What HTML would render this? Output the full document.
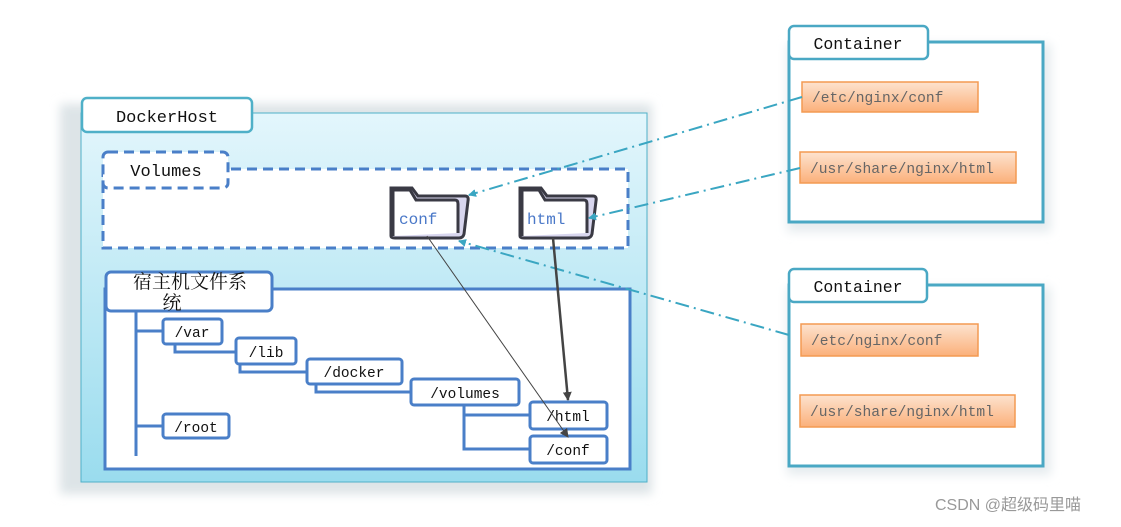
<!DOCTYPE html>
<html><head><meta charset="utf-8"><style>
body{margin:0;background:#fff;width:1121px;height:522px;overflow:hidden}
svg text{font-family:"Liberation Mono","Noto Serif CJK SC",monospace}
</style></head><body>
<svg width="1121" height="522" viewBox="0 0 1121 522" xmlns="http://www.w3.org/2000/svg">
<defs>
<linearGradient id="hg" x1="0" y1="0" x2="0" y2="1"><stop offset="0" stop-color="#e3f6fc"/><stop offset="1" stop-color="#9adcee"/></linearGradient>
<linearGradient id="og" x1="0" y1="0" x2="0" y2="1"><stop offset="0" stop-color="#fde3cf"/><stop offset="1" stop-color="#fbb07a"/></linearGradient>
<filter id="sh" x="-10%" y="-10%" width="120%" height="120%"><feGaussianBlur stdDeviation="5"/></filter>
<marker id="ab" markerWidth="8" markerHeight="8" refX="7" refY="4" orient="auto" markerUnits="userSpaceOnUse"><path d="M0,0 L8,4 L0,8 z" fill="#3aa6c2"/></marker>
<marker id="ad" markerWidth="9" markerHeight="9" refX="8" refY="4.5" orient="auto" markerUnits="userSpaceOnUse"><path d="M0,0 L9,4.5 L0,9 z" fill="#444"/></marker>
</defs>
<!-- shadows -->
<rect x="60" y="104" width="592" height="390" fill="#dde4e7" filter="url(#sh)"/>
<rect x="787" y="44" width="264" height="188" fill="#e6ecef" filter="url(#sh)"/>
<rect x="787" y="287" width="264" height="188" fill="#e6ecef" filter="url(#sh)"/>
<!-- DockerHost -->
<rect x="81" y="113" width="566" height="369" fill="url(#hg)" stroke="#4fb0c8" stroke-width="1"/>
<rect x="82" y="98" width="170" height="34" rx="5" fill="#fff" stroke="#4fb0c8" stroke-width="2.5"/>
<text x="167" y="122" font-size="17" text-anchor="middle" fill="#111">DockerHost</text>
<!-- Volumes -->
<rect x="103" y="169" width="525" height="79" fill="#fff" stroke="#4a7fc8" stroke-width="3" stroke-dasharray="10,6"/>
<rect x="103" y="152" width="125" height="36" rx="5" fill="#fff" stroke="#4a7fc8" stroke-width="3" stroke-dasharray="10,6"/>
<text x="166" y="176" font-size="17" text-anchor="middle" fill="#111">Volumes</text>
<!-- folders -->
<g>
<path d="M391,236 L391,188 L412,188 L418,196 L465,196 Q469,196 468,201 L464,234 Q463,238 459,238 L395,238 Q391,238 391,236 z" fill="#d8d6ee" stroke="#3a3a44" stroke-width="3"/>
<path d="M393,236 L393,190 L410,190 L416,200 L455,200 Q458,200 458,204 L458,233" fill="#fff" stroke="#3a3a44" stroke-width="3"/>
<text x="399" y="224" font-size="16" fill="#4a78c8">conf</text>
</g>
<g>
<path d="M520,236 L520,188 L541,188 L547,196 L593,196 Q597,196 596,201 L592,234 Q591,238 587,238 L524,238 Q520,238 520,236 z" fill="#d8d6ee" stroke="#3a3a44" stroke-width="3"/>
<path d="M522,236 L522,190 L539,190 L545,200 L584,200 Q587,200 587,204 L587,233" fill="#fff" stroke="#3a3a44" stroke-width="3"/>
<text x="527" y="224" font-size="16" fill="#4a78c8">html</text>
</g>
<!-- host fs -->
<rect x="105" y="289" width="525" height="180" fill="#fff" stroke="#4a7fc8" stroke-width="3"/>
<rect x="106" y="272" width="166" height="39" rx="5" fill="#fff" stroke="#4a7fc8" stroke-width="3"/>
<text x="190" y="288" font-size="19" text-anchor="middle" fill="#111" style="font-family:'Noto Serif CJK SC',serif">宿主机文件系</text>
<text x="172" y="309" font-size="19" text-anchor="middle" fill="#111" style="font-family:'Noto Serif CJK SC',serif">统</text>
<!-- tree connectors -->
<g fill="none" stroke="#4a7fc8" stroke-width="3">
<path d="M136,311 L136,456"/>
<path d="M136,331 L163,331"/>
<path d="M136,426 L163,426"/>
<path d="M175,344 L175,352 L236,352"/>
<path d="M240,364 L240,372 L307,372"/>
<path d="M316,384 L316,392 L411,392"/>
<path d="M464,405 L464,449 L530,449"/>
<path d="M464,415 L530,415"/>
</g>
<g fill="#fff" stroke="#4a7fc8" stroke-width="3">
<rect x="163" y="319" width="59" height="25" rx="3"/>
<rect x="236" y="338" width="60" height="26" rx="3"/>
<rect x="307" y="359" width="95" height="25" rx="3"/>
<rect x="411" y="379" width="108" height="26" rx="3"/>
<rect x="530" y="402" width="77" height="27" rx="3"/>
<rect x="530" y="436" width="77" height="27" rx="3"/>
<rect x="163" y="414" width="66" height="24" rx="3"/>
</g>
<g font-size="14.5" fill="#111" text-anchor="middle">
<text x="192" y="337">/var</text>
<text x="266" y="357">/lib</text>
<text x="354" y="377">/docker</text>
<text x="465" y="398">/volumes</text>
<text x="568" y="421">/html</text>
<text x="568" y="455">/conf</text>
<text x="196" y="432">/root</text>
</g>
<!-- containers -->
<g>
<rect x="789" y="42" width="254" height="180" fill="#fff" stroke="#4aa8c4" stroke-width="3"/>
<rect x="789" y="26" width="139" height="33" rx="5" fill="#fff" stroke="#4aa8c4" stroke-width="2.5"/>
<text x="858" y="49" font-size="16.5" text-anchor="middle" fill="#111">Container</text>
<rect x="802" y="82" width="176" height="30" fill="url(#og)" stroke="#f39a52" stroke-width="1.5"/>
<text x="812" y="102" font-size="14.6" fill="#666">/etc/nginx/conf</text>
<rect x="800" y="152" width="216" height="31" fill="url(#og)" stroke="#f39a52" stroke-width="1.5"/>
<text x="810" y="173" font-size="14.6" fill="#666">/usr/share/nginx/html</text>
</g>
<g>
<rect x="789" y="285" width="254" height="181" fill="#fff" stroke="#4aa8c4" stroke-width="3"/>
<rect x="789" y="269" width="138" height="33" rx="5" fill="#fff" stroke="#4aa8c4" stroke-width="2.5"/>
<text x="858" y="292" font-size="16.5" text-anchor="middle" fill="#111">Container</text>
<rect x="801" y="324" width="177" height="32" fill="url(#og)" stroke="#f39a52" stroke-width="1.5"/>
<text x="811" y="345" font-size="14.6" fill="#666">/etc/nginx/conf</text>
<rect x="800" y="395" width="215" height="32" fill="url(#og)" stroke="#f39a52" stroke-width="1.5"/>
<text x="810" y="416" font-size="14.6" fill="#666">/usr/share/nginx/html</text>
</g>
<!-- dash-dot lines -->
<g fill="none" stroke="#3aa6c2" stroke-width="2" stroke-dasharray="14,5,2,5">
<path d="M802,97 L469,195" marker-end="url(#ab)"/>
<path d="M800,168 L589,218" marker-end="url(#ab)"/>
<path d="M789,335 L459,241" marker-end="url(#ab)"/>
</g>
<!-- mount arrows -->
<path d="M427,236 L568,437" stroke="#444" stroke-width="1" fill="none" marker-end="url(#ad)"/>
<path d="M553,238 L568,400" stroke="#444" stroke-width="2.5" fill="none" marker-end="url(#ad)"/>
<text x="935" y="510" font-size="16" fill="#999" style="font-family:'Liberation Sans','Noto Sans CJK SC',sans-serif">CSDN @超级码里喵</text>
</svg>
</body></html>
